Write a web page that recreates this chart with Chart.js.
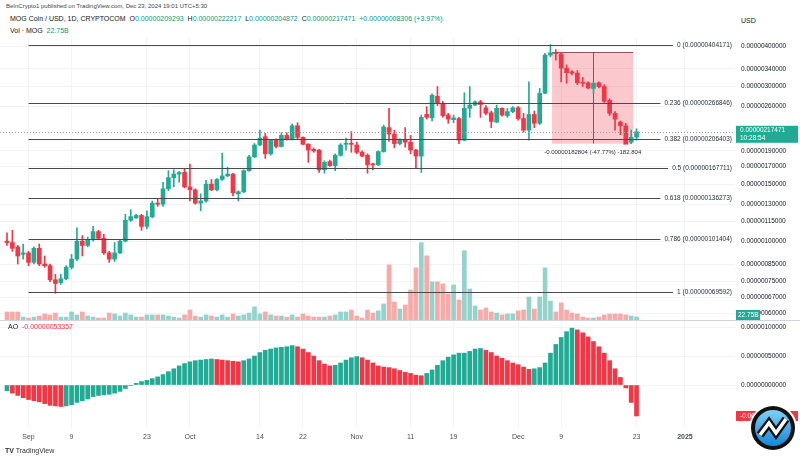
<!DOCTYPE html>
<html>
<head>
<meta charset="utf-8">
<script src="https://cdn.jsdelivr.net/npm/chart.js@4.4.1/dist/chart.umd.min.js"></script>
<style>
body{margin:0;background:#fff;font-family:"Liberation Sans",Arial,sans-serif;width:800px;height:460px;overflow:hidden;position:relative}
.t{position:absolute;white-space:nowrap;color:#131722}
.g{color:#089981}
.r{color:#f23645}
#pub{left:6px;top:3px;font-size:6px;color:#444}
#info{left:10px;top:15px;font-size:7px}
#vol{left:10px;top:27px;font-size:7px}
#usd{left:741px;top:17px;font-size:7px}
#aolbl{left:8px;top:323px;font-size:7px}
#tv{left:5px;top:447px;font-size:7px;color:#333}
#main{position:absolute;left:0;top:38px}
#ao{position:absolute;left:0;top:320px}
</style>
</head>
<body>
<div class="t" id="pub">BeInCrypto1 published on TradingView.com, Dec 23, 2024 19:01 UTC+5:30</div>
<div class="t" id="info">MOG Coin / USD, 1D, CRYPTOCOM&nbsp; O<span class="g">0.00000209293</span>&nbsp; H<span class="g">0.00000222217</span>&nbsp; L<span class="g">0.00000204872</span>&nbsp; C<span class="g">0.00000217471</span>&nbsp; <span class="g">+0.00000008306 (+3.97%)</span></div>
<div class="t" id="vol">Vol · MOG&nbsp; <span class="g">22.75B</span></div>
<div class="t" id="usd">USD</div>
<canvas id="main" width="800" height="282"></canvas>
<canvas id="ao" width="800" height="140"></canvas>
<div class="t" id="aolbl">AO&nbsp; <span class="r">-0.00000053357</span></div>
<div class="t" id="tv"><b>TV</b> TradingView</div>
<script>
// prices in units of 0.000001 USD, one candle per day from Aug 28 to Dec 23
const opens = [1.00,0.99,0.96,0.91,0.92,0.86,0.95,0.85,0.84,0.76,0.745,0.765,0.83,0.88,1.00,0.97,1.01,1.07,1.02,0.92,
  0.88,0.92,1.00,1.16,1.18,1.20,1.11,1.19,1.31,1.30,1.45,1.57,1.61,1.63,1.47,1.44,1.31,1.33,1.50,1.44,
  1.55,1.59,1.61,1.40,1.42,1.65,1.82,1.98,2.10,1.86,2.05,1.96,2.12,2.06,2.27,2.09,1.99,1.92,1.91,1.66,
  1.76,1.71,1.84,1.99,2.00,1.98,1.88,1.84,1.73,1.72,1.89,2.24,2.14,2.00,2.06,2.02,1.91,1.83,2.46,2.40,
  2.80,2.66,2.45,2.37,2.39,2.05,2.57,2.63,2.69,2.58,2.49,2.33,2.57,2.44,2.51,2.58,2.39,2.20,2.46,2.31,
  2.86,3.75,3.81,3.78,3.42,3.33,3.30,3.08,3.08,2.96,3.08,3.00,2.72,2.48,2.33,2.27,2.02,2.09293];
const highs = [1.06,1.08,0.97,0.98,0.93,0.96,0.98,0.90,0.85,0.79,0.79,0.84,0.91,1.10,1.04,1.03,1.11,1.08,1.05,0.93,
  0.99,1.01,1.21,1.25,1.21,1.21,1.24,1.33,1.35,1.52,1.65,1.66,1.64,1.67,1.73,1.45,1.40,1.54,1.55,1.56,
  1.87,1.69,1.62,1.43,1.66,1.84,2.00,2.20,2.15,2.06,2.07,2.16,2.16,2.30,2.32,2.10,2.00,1.94,1.92,1.77,
  1.78,1.86,2.00,2.08,2.18,2.02,1.90,1.86,1.74,1.90,2.28,2.57,2.20,2.07,2.24,2.12,1.92,2.45,2.60,2.85,
  3.00,2.70,2.48,2.45,2.41,2.87,3.00,2.71,2.72,2.62,2.52,2.63,2.58,2.57,2.60,2.60,2.48,3.10,2.52,2.96,
  3.80,4.04171,3.90,3.82,3.50,3.36,3.36,3.20,3.10,3.10,3.10,3.04,2.75,2.51,2.35,2.31,2.20,2.22217];
const lows = [0.97,0.93,0.85,0.88,0.84,0.85,0.84,0.83,0.75,0.69,0.735,0.76,0.82,0.87,0.90,0.96,1.00,1.01,0.91,0.86,
  0.865,0.915,0.995,1.15,1.175,1.08,1.09,1.18,1.28,1.28,1.43,1.47,1.52,1.46,1.33,1.30,1.24,1.32,1.43,1.43,
  1.54,1.58,1.38,1.33,1.41,1.64,1.81,1.97,1.80,1.84,1.94,1.95,2.05,2.05,2.06,1.98,1.75,1.88,1.63,1.62,
  1.70,1.65,1.83,1.91,1.88,1.86,1.82,1.62,1.66,1.71,1.88,2.03,1.94,1.98,1.95,1.86,1.68,1.63,2.38,2.35,
  2.62,2.41,2.31,2.32,2.00,2.04,2.41,2.62,2.41,2.45,2.24,2.32,2.43,2.41,2.49,2.36,2.17,2.05,2.24,2.29,
  2.85,3.70,3.62,3.10,3.07,3.26,3.04,3.00,2.95,2.86,2.97,2.68,2.44,2.20,2.13,1.999,2.00,2.04872];
const closes = [0.99,0.95,0.90,0.92,0.86,0.95,0.85,0.84,0.76,0.74,0.765,0.83,0.88,1.00,0.97,1.01,1.07,1.02,0.92,0.88,
  0.92,1.00,1.16,1.19,1.20,1.11,1.19,1.31,1.30,1.45,1.57,1.61,1.63,1.47,1.44,1.31,1.33,1.50,1.44,1.55,
  1.59,1.61,1.41,1.42,1.65,1.82,1.98,2.08,1.86,2.05,1.96,2.12,2.06,2.27,2.09,1.99,1.91,1.90,1.66,1.75,
  1.71,1.84,1.98,2.00,1.99,1.88,1.83,1.72,1.72,1.89,2.25,2.14,2.00,2.05,2.02,1.91,1.83,2.41,2.41,2.82,
  2.66,2.44,2.38,2.40,2.05,2.57,2.63,2.69,2.64,2.48,2.34,2.57,2.45,2.51,2.58,2.39,2.20,2.46,2.31,2.86,
  3.75,3.81,3.79,3.42,3.31,3.30,3.08,3.07,2.97,3.07,3.00,2.70,2.48,2.38,2.27,1.99,2.09,2.17471];
// volume in billions of MOG
const volumes = [60,60,60,22,15,22,30,45,38,52,22,22,60,38,60,30,22,15,15,52,45,30,52,38,22,22,38,38,38,38,
  30,22,15,38,75,30,22,38,30,22,38,22,45,30,38,52,98,45,60,38,30,30,22,38,22,45,30,22,22,22,
  30,38,60,60,75,30,15,75,52,68,120,412,135,82,112,225,390,578,480,285,
  285,270,195,262,150,518,232,105,75,90,60,52,38,45,45,68,75,172,82,172,
  390,142,60,128,75,52,45,22,15,15,22,38,45,45,45,38,30,22.75];
// Awesome Oscillator, units of 0.000001
const aoValues = [-0.10,-0.14,-0.18,-0.22,-0.25,-0.27,-0.29,-0.32,-0.35,-0.36,
  -0.37,-0.36,-0.34,-0.30,-0.27,-0.24,-0.20,-0.18,-0.17,-0.16,
  -0.14,-0.11,-0.06,-0.01,0.03,0.06,0.08,0.11,0.14,0.18,
  0.23,0.28,0.33,0.37,0.40,0.42,0.43,0.44,0.45,0.44,
  0.43,0.42,0.41,0.40,0.42,0.45,0.50,0.56,0.60,0.62,
  0.64,0.65,0.66,0.68,0.66,0.62,0.56,0.50,0.42,0.36,
  0.33,0.34,0.38,0.43,0.47,0.49,0.47,0.43,0.38,0.33,
  0.31,0.30,0.28,0.25,0.22,0.20,0.17,0.16,0.20,0.26,
  0.34,0.42,0.48,0.52,0.55,0.55,0.58,0.62,0.63,0.60,
  0.56,0.50,0.46,0.42,0.38,0.35,0.31,0.27,0.28,0.30,
  0.38,0.55,0.70,0.82,0.92,0.98,0.95,0.90,0.83,0.75,
  0.66,0.55,0.42,0.28,0.13,-0.05,-0.30,-0.53357];

const priceTicks = [4.0,3.4,3.0,2.6,1.9,1.7,1.5,1.3,1.15,1.0,0.85,0.75,0.67,0.6];
const aoTicks = [1.0,0.5,0];
const timeTickIdx = [4,12,26,34,47,55,65,75,83,95,103,117,126];
const timeTickLabels = ['Sep','9','23','Oct','14','22','Nov','11','19','Dec','9','23','2025'];
const fibLevels = [0,0.236,0.382,0.5,0.618,0.786,1];
const fibPrices = [4.04171,2.66846,2.06403,1.67711,1.36273,1.01404,0.69592];
const lastPrice = 2.17471;
const lastVolume = 22.75;
const measureStart = 101.3, measureEnd = 116.4;
const measureTop = 3.82704, measureBottom = 1.999;

const UP = '#22ab94', DOWN = '#f23645';
const UP_VOL = '#93d3cb', DOWN_VOL = '#f8aaa9';
const FONT = '"Liberation Sans", Arial, sans-serif';
const fmt = v => (v * 1e-6).toFixed(11);

const candleColors = opens.map((o, i) => closes[i] >= o ? UP : DOWN);
const volColors = opens.map((o, i) => closes[i] >= o ? UP_VOL : DOWN_VOL);
const aoColors = aoValues.map((v, i) => i === 0 || v >= aoValues[i - 1] ? UP : DOWN);

const xRange = { type: 'linear', min: -1.3, max: 135.3, offset: false };

function rightAxis(w) {
  return function(scale) {
    scale.width = w;
    scale.paddingTop = 0;
    scale.paddingBottom = 0;
  };
}

const overlayPlugin = {
  id: 'overlay',
  beforeDatasetsDraw(chart) {
    const { ctx } = chart;
    const x = chart.scales.x, y = chart.scales.y;
    // measuring box
    const x1 = x.getPixelForValue(measureStart), x2 = x.getPixelForValue(measureEnd);
    const y1 = y.getPixelForValue(measureTop), y2 = y.getPixelForValue(measureBottom);
    ctx.save();
    ctx.fillStyle = 'rgba(242,54,69,0.27)';
    ctx.fillRect(x1, y1, x2 - x1, y2 - y1);
    ctx.strokeStyle = 'rgba(110,40,40,0.75)';
    ctx.lineWidth = 1;
    ctx.beginPath();
    ctx.moveTo(x1, Math.round(y1) + 0.5);
    ctx.lineTo(x2, Math.round(y1) + 0.5);
    const xm = Math.round((x1 + x2) / 2) + 0.5;
    ctx.moveTo(xm, y1);
    ctx.lineTo(xm, y2);
    ctx.stroke();
    ctx.restore();
  },
  afterDatasetsDraw(chart) {
    const { ctx, chartArea } = chart;
    const x = chart.scales.x, y = chart.scales.y;
    ctx.save();
    ctx.font = '6.5px ' + FONT;
    ctx.textBaseline = 'middle';
    const xs = x.getPixelForValue(4);
    fibLevels.forEach((lvl, i) => {
      const py = Math.round(y.getPixelForValue(fibPrices[i])) + 0.5;
      const label = lvl + ' (' + fmt(fibPrices[i]) + ')';
      const w = ctx.measureText(label).width;
      const xe = chartArea.right - 3 - w - 4;
      ctx.strokeStyle = '#4a4a4a';
      ctx.lineWidth = 1;
      ctx.beginPath();
      ctx.moveTo(xs, py);
      ctx.lineTo(xe, py);
      ctx.stroke();
      ctx.fillStyle = '#2a2e39';
      ctx.textAlign = 'right';
      ctx.fillText(label, chartArea.right - 3, py);
    });
    // current price dotted line
    const lp = Math.round(y.getPixelForValue(lastPrice)) + 0.5;
    ctx.strokeStyle = '#9aa0a6';
    ctx.setLineDash([1, 2]);
    ctx.beginPath();
    ctx.moveTo(chartArea.left, lp);
    ctx.lineTo(chartArea.right, lp);
    ctx.stroke();
    ctx.setLineDash([]);
    // measure label
    const x1 = x.getPixelForValue(measureStart), x2 = x.getPixelForValue(measureEnd);
    const yb = y.getPixelForValue(measureBottom);
    ctx.font = '6px ' + FONT;
    ctx.textAlign = 'center';
    ctx.fillStyle = '#2a2e39';
    const pct = ((measureBottom - measureTop) / measureTop * 100).toFixed(2);
    ctx.fillText(fmt(measureBottom - measureTop) + ' (' + pct + '%) -182.804', (x1 + x2) / 2, yb + 9);
    ctx.restore();
  },
  afterDraw(chart) {
    const { ctx, chartArea } = chart;
    const y = chart.scales.y, yv = chart.scales.yVol;
    ctx.save();
    // last price tag
    const lp = y.getPixelForValue(lastPrice);
    ctx.fillStyle = '#22ab94';
    ctx.fillRect(chartArea.right + 1, lp - 6, 62, 17);
    ctx.fillStyle = '#fff';
    ctx.font = '6.5px ' + FONT;
    ctx.textBaseline = 'middle';
    ctx.textAlign = 'left';
    ctx.fillText(fmt(lastPrice), chartArea.right + 5, lp - 1.5);
    ctx.fillText('10:28:54', chartArea.right + 5, lp + 6);
    // volume tag
    const vy = Math.min(yv.getPixelForValue(lastVolume), chartArea.bottom - 5);
    ctx.fillStyle = '#22ab94';
    ctx.fillRect(chartArea.right + 1, vy - 5, 24, 10);
    ctx.fillStyle = '#fff';
    ctx.fillText(lastVolume + 'B', chartArea.right + 3, vy);
    ctx.restore();
  }
};

new Chart(document.getElementById('main'), {
  type: 'bar',
  data: {
    datasets: [
      {
        data: opens.map((o, i) => ({ x: i, y: [o, closes[i]] })),
        backgroundColor: candleColors,
        barThickness: 4,
        minBarLength: 1,
        grouped: false,
        order: 1
      },
      {
        data: opens.map((o, i) => ({ x: i, y: [lows[i], highs[i]] })),
        backgroundColor: candleColors,
        barThickness: 1,
        grouped: false,
        order: 2
      },
      {
        data: volumes.map((v, i) => ({ x: i, y: v })),
        backgroundColor: volColors,
        barThickness: 4,
        grouped: false,
        yAxisID: 'yVol',
        order: 3
      }
    ]
  },
  options: {
    responsive: false,
    animation: false,
    layout: { padding: 0 },
    plugins: { legend: { display: false }, tooltip: { enabled: false } },
    scales: {
      x: Object.assign({}, xRange, {
        grid: { color: '#f3f4f6', drawTicks: false, offset: false },
        border: { display: false },
        ticks: { display: false },
        afterBuildTicks: s => { s.ticks = timeTickIdx.map(v => ({ value: v })); },
        afterFit: s => { s.height = 0; }
      }),
      y: {
        type: 'logarithmic',
        position: 'right',
        min: 0.571,
        max: 4.235,
        grid: { color: '#f3f4f6', drawTicks: false },
        border: { display: false },
        ticks: { font: { size: 6.5, family: FONT }, color: '#131722', padding: 6, callback: v => fmt(v) },
        afterBuildTicks: s => { s.ticks = priceTicks.map(v => ({ value: v })); },
        afterFit: rightAxis(65)
      },
      yVol: {
        type: 'linear',
        display: false,
        min: 0,
        max: 2108
      }
    }
  },
  plugins: [overlayPlugin]
});

const aoPlugin = {
  id: 'aoOverlay',
  afterDraw(chart) {
    const { ctx, chartArea } = chart;
    const y = chart.scales.y;
    ctx.save();
    ctx.strokeStyle = '#d1d4dc';
    ctx.beginPath();
    ctx.moveTo(0, 0.5);
    ctx.lineTo(800, 0.5);
    ctx.stroke();
    // last AO tag
    const last = aoValues[aoValues.length - 1];
    const py = y.getPixelForValue(last);
    ctx.fillStyle = DOWN;
    ctx.fillRect(chartArea.right + 1, py - 5, 62, 10);
    ctx.fillStyle = '#fff';
    ctx.font = '6.5px ' + FONT;
    ctx.textBaseline = 'middle';
    ctx.fillText(fmt(last), chartArea.right + 5, py);
    // badge
    const cx = 773, cy = 108;
    ctx.beginPath(); ctx.arc(cx, cy, 24, 0, Math.PI * 2); ctx.fillStyle = '#fff'; ctx.fill();
    ctx.beginPath(); ctx.arc(cx, cy, 22, 0, Math.PI * 2); ctx.fillStyle = '#111'; ctx.fill();
    const grad = ctx.createLinearGradient(cx, cy - 18, cx, cy + 18);
    grad.addColorStop(0, '#7fd0f7');
    grad.addColorStop(1, '#1687d6');
    ctx.beginPath(); ctx.arc(cx, cy, 18, 0, Math.PI * 2); ctx.fillStyle = grad; ctx.fill();
    ctx.lineJoin = 'miter';
    ctx.beginPath();
    ctx.moveTo(cx - 13, cy + 7); ctx.lineTo(cx - 4, cy - 5); ctx.lineTo(cx + 3, cy + 5); ctx.lineTo(cx + 13, cy - 9);
    ctx.strokeStyle = '#111'; ctx.lineWidth = 8; ctx.stroke();
    ctx.strokeStyle = '#fff'; ctx.lineWidth = 3.5; ctx.stroke();
    ctx.restore();
  }
};

new Chart(document.getElementById('ao'), {
  type: 'bar',
  data: {
    datasets: [{
      data: aoValues.map((v, i) => ({ x: i, y: v })),
      backgroundColor: aoColors,
      barThickness: 4,
      grouped: false
    }]
  },
  options: {
    responsive: false,
    animation: false,
    layout: { padding: { bottom: 14 } },
    plugins: { legend: { display: false }, tooltip: { enabled: false } },
    scales: {
      x: Object.assign({}, xRange, {
        grid: { color: '#f3f4f6', drawTicks: false, offset: false },
        border: { display: false },
        ticks: {
          color: '#4a4e59',
          padding: 5,
          maxRotation: 0,
          font: ctx => ({ size: 7, family: FONT, weight: ctx.tick && ctx.tick.value === 126 ? 'bold' : 'normal' }),
          callback: v => timeTickLabels[timeTickIdx.indexOf(v)]
        },
        afterBuildTicks: s => { s.ticks = timeTickIdx.map(v => ({ value: v })); },
        afterFit: s => { s.height = 18; }
      }),
      y: {
        type: 'linear',
        position: 'right',
        min: -0.741,
        max: 1.121,
        grid: { color: '#f3f4f6', drawTicks: false },
        border: { display: false },
        ticks: { font: { size: 6.5, family: FONT }, color: '#131722', padding: 6, callback: v => fmt(v) },
        afterBuildTicks: s => { s.ticks = aoTicks.map(v => ({ value: v })); },
        afterFit: rightAxis(65)
      }
    }
  },
  plugins: [aoPlugin]
});
</script>
</body>
</html>
